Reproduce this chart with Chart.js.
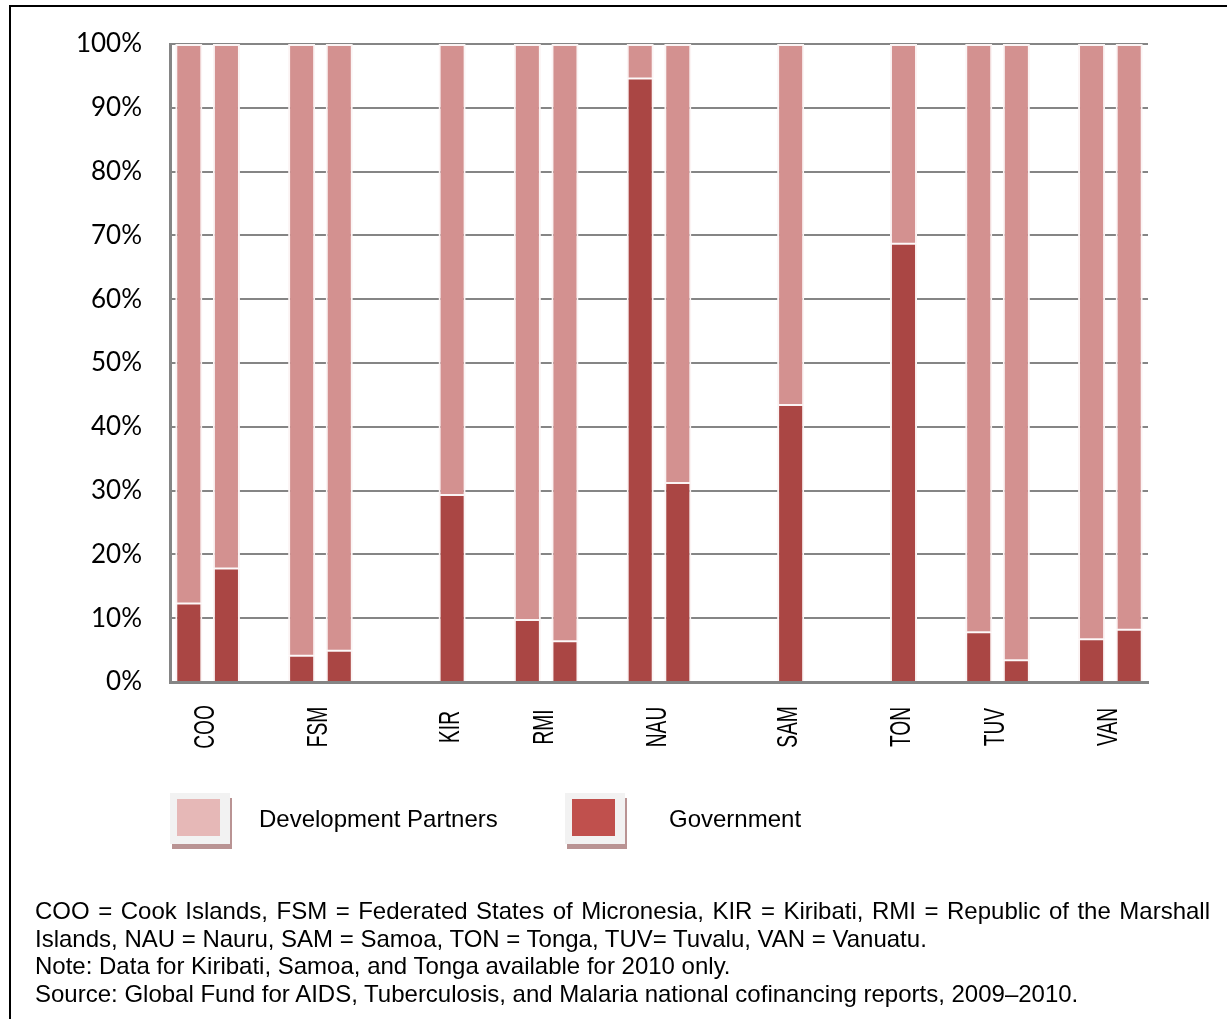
<!DOCTYPE html>
<html>
<head>
<meta charset="utf-8">
<script src="https://cdn.jsdelivr.net/npm/chart.js@4.4.0/dist/chart.umd.min.js"></script>
<style>
  html, body { margin: 0; padding: 0; background: #fff; }
  body {
    width: 1227px; height: 1019px; position: relative; overflow: hidden;
    font-family: 'Liberation Sans', Arial, sans-serif; color: #000;
  }
  #frame {
    position: absolute; left: 9px; top: 5px; width: 1300px; height: 1100px;
    border-left: 2px solid #000; border-top: 2px solid #000;
  }
  #wrap { position: absolute; left: 0; top: 0; width: 1227px; height: 1019px; }

  /* legend */
  .lg-box {
    position: absolute; top: 793px; width: 60px; height: 51px;
    background: #f2f2f2; box-shadow: 2px 5px 0 #b99393;
  }
  .lg-sw { position: absolute; left: 7px; top: 6px; width: 43px; height: 37px; }
  .lg-text { position: absolute; top: 805px; font-size: 24px; line-height: 28px; white-space: nowrap; }

  /* notes */
  .note {
    position: absolute; left: 35px; font-size: 24px; line-height: 28px; white-space: nowrap;
  }
  .note.just { width: 1175px; text-align: justify; text-align-last: justify; white-space: normal; }
</style>
</head>
<body>
<div id="frame"></div>
<div id="wrap"><canvas id="chart"></canvas></div>

<div class="lg-box" style="left:170px"><div class="lg-sw" style="background:#e6b8b7"></div></div>
<div class="lg-text" style="left:259px">Development Partners</div>
<div class="lg-box" style="left:565px"><div class="lg-sw" style="background:#c0504d"></div></div>
<div class="lg-text" style="left:669px">Government</div>

<div class="note just" style="top:897px">COO = Cook Islands, FSM = Federated States of Micronesia, KIR = Kiribati, RMI = Republic of the Marshall</div>
<div class="note" style="top:925px">Islands, NAU = Nauru, SAM = Samoa, TON = Tonga, TUV= Tuvalu, VAN = Vanuatu.</div>
<div class="note" style="top:952px">Note: Data for Kiribati, Samoa, and Tonga available for 2010 only.</div>
<div class="note" style="top:980px">Source: Global Fund for AIDS, Tuberculosis, and Malaria national cofinancing reports, 2009–2010.</div>

<script>
// data (share of funding, %), 2009 and 2010 per country
var COUNTRIES = ['COO', 'FSM', 'KIR', 'RMI', 'NAU', 'SAM', 'TON', 'TUV', 'VAN'];
var GOV_2009  = [12.3,  4.1, null,  9.7, 94.6, null, null,  7.8,  6.7];
var GOV_2010  = [17.8,  4.9, 29.3,  6.4, 31.2, 43.4, 68.7,  3.4,  8.2];
var DP_2009   = [87.7, 95.9, null, 90.3,  5.4, null, null, 92.2, 93.3];
var DP_2010   = [82.2, 95.1, 70.7, 93.6, 68.8, 56.6, 31.3, 96.6, 91.8];

var DP_COLOR  = '#d39190';
var GOV_COLOR = '#aa4644';
var EDGE      = '#fbf4f4';
var AXIS_GRAY = '#858585';

// three slots per country (2009, 2010, gap), no gap after the last one
var slotLabels = [], govSlots = [], dpSlots = [];
COUNTRIES.forEach(function (c, i) {
  slotLabels.push(c + ' 2009', c + ' 2010');
  govSlots.push(GOV_2009[i], GOV_2010[i]);
  dpSlots.push(DP_2009[i], DP_2010[i]);
  if (i < COUNTRIES.length - 1) {
    slotLabels.push('');
    govSlots.push(null);
    dpSlots.push(null);
  }
});

// country names, rotated, under each pair of bars
var countryLabels = {
  id: 'countryLabels',
  afterDraw: function (chart) {
    var xs = chart.scales.x;
    var ctx = chart.ctx;
    ctx.save();
    ctx.fillStyle = '#000';
    ctx.font = '29px "Liberation Sans", Arial, sans-serif';
    ctx.textAlign = 'center';
    ctx.textBaseline = 'alphabetic';
    COUNTRIES.forEach(function (c, i) {
      var a = xs.getPixelForValue(3 * i);
      var b = xs.getPixelForValue(3 * i + 1);
      var px = GOV_2009[i] == null ? b : (a + b) / 2;
      ctx.save();
      ctx.translate(px - 4, 727);
      ctx.rotate(-Math.PI / 2);
      ctx.scale(0.66, 1);
      ctx.fillText(c, 0, 10.5);
      ctx.restore();
    });
    ctx.restore();
  }
};

new Chart(document.getElementById('chart').getContext('2d'), {
  type: 'bar',
  data: {
    labels: slotLabels,
    datasets: [
      {
        label: 'Government',
        data: govSlots,
        backgroundColor: GOV_COLOR,
        borderColor: EDGE,
        borderWidth: { top: 1, left: 2, right: 2, bottom: 0 },
        borderSkipped: false
      },
      {
        label: 'Development Partners',
        data: dpSlots,
        backgroundColor: DP_COLOR,
        borderColor: EDGE,
        borderWidth: { top: 2, left: 2, right: 2, bottom: 1 },
        borderSkipped: false
      }
    ]
  },
  options: {
    responsive: true,
    maintainAspectRatio: false,
    animation: false,
    datasets: { bar: { categoryPercentage: 1, barPercentage: 0.72 } },
    layout: { padding: { left: 70, top: 44, right: 79, bottom: 337 } },
    plugins: {
      legend: { display: false },
      tooltip: { enabled: false }
    },
    scales: {
      x: {
        stacked: true,
        grid: { display: false },
        border: { color: AXIS_GRAY, width: 3 },
        ticks: { display: false },
        afterFit: function (s) { s.height = 0; }
      },
      y: {
        stacked: true,
        min: 0,
        max: 100,
        grid: { color: AXIS_GRAY, lineWidth: 2, drawTicks: false },
        border: { color: AXIS_GRAY, width: 3 },
        ticks: {
          stepSize: 10,
          padding: 28,
          color: '#000',
          font: { family: 'Lato', size: 26 },
          callback: function (v) { return v + '%'; }
        },
        afterFit: function (s) { s.width = 100; }
      }
    }
  },
  plugins: [countryLabels]
});
</script>
</body>
</html>
